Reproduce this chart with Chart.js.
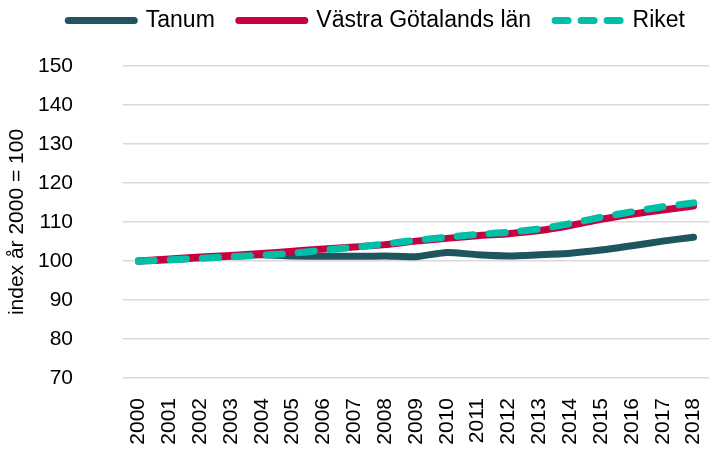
<!DOCTYPE html>
<html lang="sv">
<head>
<meta charset="utf-8">
<title>Befolkningsutveckling index</title>
<script src="https://cdn.jsdelivr.net/npm/chart.js@4.4.1/dist/chart.umd.min.js"></script>
<style>
    html, body { margin: 0; padding: 0; background: #ffffff; }
    #wrap { width: 709px; height: 450px; position: relative; }
</style>
</head>
<body>
<div id="wrap"><canvas id="chart"></canvas></div>
<script>
// År och indexserier (år 2000 = 100)
const years = ['2000', '2001', '2002', '2003', '2004', '2005', '2006', '2007', '2008', '2009',
    '2010', '2011', '2012', '2013', '2014', '2015', '2016', '2017', '2018'];
const tanum = [100, 100.3, 100.8, 101.2, 101.6, 101.3, 101.2, 101.2, 101.3, 101.1,
    102.2, 101.6, 101.3, 101.6, 102.0, 102.8, 103.9, 105.1, 106.1];
const vastraGotaland = [100, 100.5, 101.0, 101.4, 101.9, 102.5, 103.1, 103.6, 104.2, 105.1,
    105.8, 106.5, 107.0, 107.8, 109.1, 110.7, 112.0, 113.1, 114.1];
const riket = [100, 100.3, 100.7, 101.1, 101.5, 102.0, 102.8, 103.5, 104.4, 105.3,
    106.1, 106.8, 107.4, 108.2, 109.6, 111.2, 112.6, 113.9, 114.9];
const yTicks = [70, 80, 90, 100, 110, 120, 130, 140, 150];

const FONT = 'Arial, "Liberation Sans", sans-serif';
const LINE_W = 7;

// Extra room under the legend (common legend.fit patch)
const legendSpacing = {
    id: 'legendSpacing',
    beforeInit(chart) {
        const origFit = chart.legend.fit;
        chart.legend.fit = function fit() {
            origFit.bind(chart.legend)();
            this.height = 81;
        };
    }
};

new Chart(document.getElementById('chart'), {
    type: 'line',
    data: {
        labels: years,
        datasets: [
            {
                label: 'Tanum',
                data: tanum,
                borderColor: '#1f555e',
                backgroundColor: '#1f555e',
                borderWidth: LINE_W,
                borderCapStyle: 'round',
                order: 3
            },
            {
                label: 'Västra Götalands län',
                data: vastraGotaland,
                borderColor: '#c8003f',
                backgroundColor: '#c8003f',
                borderWidth: LINE_W,
                borderCapStyle: 'round',
                order: 2
            },
            {
                label: 'Riket',
                data: riket,
                borderColor: '#00bfa7',
                backgroundColor: '#00bfa7',
                borderWidth: LINE_W,
                borderDash: [16, 16],
                borderCapStyle: 'round',
                order: 1
            }
        ]
    },
    options: {
        responsive: true,
        maintainAspectRatio: false,
        animation: false,
        layout: {
            padding: { top: -15, left: 0, right: 0, bottom: 0 }
        },
        elements: {
            point: { radius: 0, hoverRadius: 0 },
            line: { tension: 0.2, borderJoinStyle: 'round' }
        },
        plugins: {
            legend: {
                display: true,
                position: 'top',
                align: 'end',
                labels: {
                    usePointStyle: true,
                    pointStyle: 'line',
                    pointStyleWidth: 66,
                    padding: 24,
                    color: '#000000',
                    font: { family: FONT, size: 23 },
                    // legend samples taken from the line styles, in dataset order
                    generateLabels: (chart) => chart.data.datasets.map((ds, i) => ({
                        text: ds.label,
                        fillStyle: ds.borderColor,
                        strokeStyle: ds.borderColor,
                        fontColor: '#000000',
                        lineWidth: LINE_W,
                        lineCap: 'round',
                        lineDash: ds.borderDash ? [13, 13] : [],
                        lineDashOffset: 0,
                        pointStyle: 'line',
                        hidden: false,
                        datasetIndex: i
                    }))
                }
            },
            tooltip: { enabled: false }
        },
        scales: {
            x: {
                offset: true,
                grid: { display: false, drawTicks: false },
                border: { display: false },
                ticks: {
                    minRotation: 90,
                    maxRotation: 90,
                    autoSkip: false,
                    padding: 20,
                    color: '#000000',
                    font: { family: FONT, size: 21 }
                },
                afterFit: (axis) => {
                    axis.height = 72;
                    axis.paddingLeft = 0;
                    axis.paddingRight = 0;
                }
            },
            y: {
                min: 70,
                max: 150,
                afterBuildTicks: (axis) => {
                    axis.ticks = yTicks.map(v => ({ value: v }));
                },
                afterFit: (axis) => {
                    axis.width = 123;
                },
                grid: {
                    color: '#d9d9d9',
                    lineWidth: 1.5,
                    drawTicks: false
                },
                border: { display: false },
                ticks: {
                    padding: 50,
                    color: '#000000',
                    font: { family: FONT, size: 21 }
                },
                title: {
                    display: true,
                    text: 'index år 2000 = 100',
                    color: '#000000',
                    font: { family: FONT, size: 21 },
                    padding: { top: 5, bottom: 8 }
                }
            }
        }
    },
    plugins: [legendSpacing]
});
</script>
</body>
</html>
